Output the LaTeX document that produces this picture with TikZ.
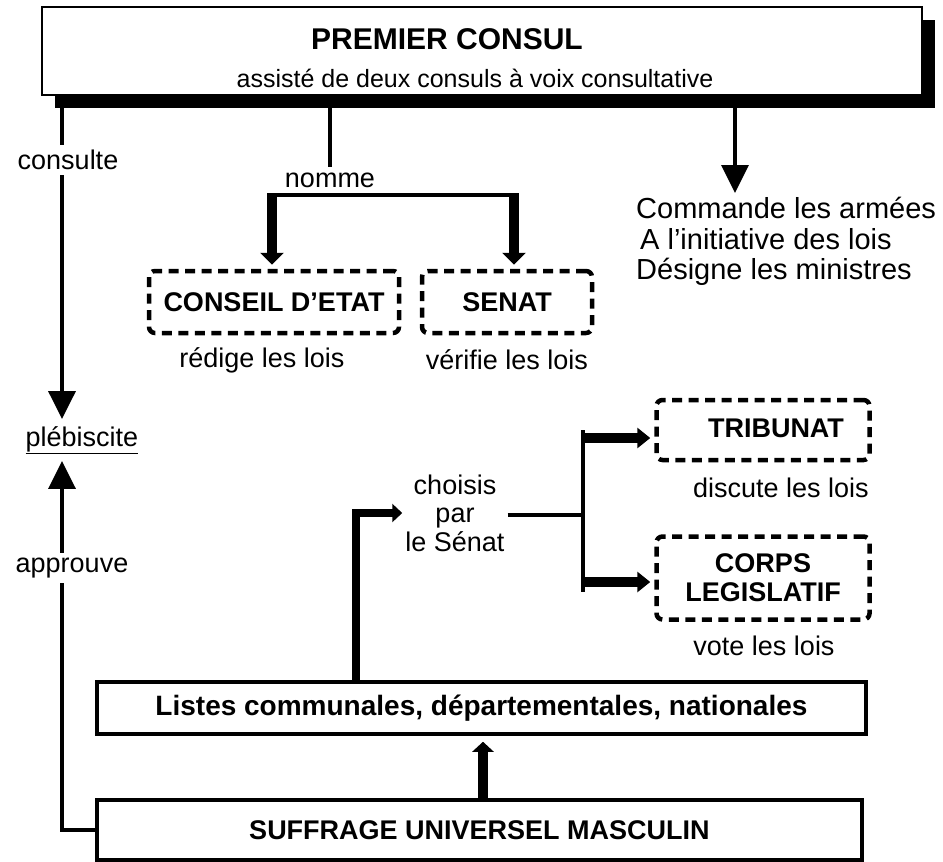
\documentclass[tikz,border=0pt]{standalone}
\usepackage{fontspec}
\setmainfont{Liberation Sans}
\usetikzlibrary{arrows.meta}
\begin{document}
\begin{tikzpicture}[x=1pt,y=-1pt,
 lbl/.style={font=\fontsize{27}{31}\selectfont, inner sep=5pt},
 bld/.style={font=\fontsize{27}{29}\selectfont\bfseries, inner sep=0pt},
 dbox/.style={draw, line width=4.5pt, dash pattern=on 10pt off 6.5pt, rounded corners=6pt, inner sep=0pt, font=\fontsize{27}{29}\selectfont\bfseries, align=center},
 sbox/.style={draw, line width=3.5pt, fill=white, inner sep=0pt},
 thinl/.style={line width=3.5pt},
 bigarrow/.style={line width=3.5pt, -{Triangle[width=27pt,length=28pt]}},
 fatarrow/.style={line width=10pt, -{Triangle[width=23pt,length=12pt]}},
 midarrow/.style={line width=10pt, -{Triangle[width=20pt,length=13pt]}},
 smallarrow/.style={line width=10pt, -{Triangle[width=21pt,length=10pt]}}
]
\useasboundingbox (0,0) rectangle (943,862);
% top box with shadow
\node[fill=black, minimum width=880pt, minimum height=88pt, inner sep=0pt] (pcshadow) at (495,64) {};
\node[sbox, line width=2.5pt, minimum width=880pt, minimum height=88pt] (pc) at (482,51) {};
\node[font=\fontsize{30}{34}\selectfont\bfseries, inner sep=0pt] (pct) at (447,39) {PREMIER CONSUL};
\node[font=\fontsize{25}{29}\selectfont, inner sep=0pt] (pcsub) at (475,78) {assisté de deux consuls à voix consultative};

% left column
\coordinate (cA) at (62,108);
\node[lbl] (cons) at (68,160) {consulte};
\node[lbl, inner sep=7pt] (pleb) at (82,440) {\underline{plébiscite}};
\node[lbl] (appr) at (72,568) {approuve};

% nomme
\coordinate (nA) at (330,108);
\node[lbl] (nomme) at (330,180) {nomme};
\coordinate (nL) at (272,195);
\coordinate (nR) at (514,195);
\node[dbox, minimum width=250pt, minimum height=62pt] (ce) at (274,302) {CONSEIL D'ETAT};
\node[dbox, minimum width=170pt, minimum height=62pt] (se) at (507,302) {SENAT};
\node[lbl] (ceL) at (262,360) {rédige les lois};
\node[lbl] (seL) at (507,360) {vérifie les lois};

% right
\coordinate (cmA) at (735,108);
\node[font=\fontsize{29}{30.5}\selectfont, align=left, anchor=north west, inner xsep=0pt, inner ysep=4pt] (cmd) at (636,193) {Commande les armées\\\hspace*{4pt}A l'initiative des lois\\Désigne les ministres};

% tribunat / corps
\node[dbox, minimum width=213pt, minimum height=60pt] (tr) at (763,430) {};
\node[bld] (trt) at (776,428) {TRIBUNAT};
\node[lbl] (trL) at (781,488) {discute les lois};
\node[dbox, minimum width=213pt, minimum height=83pt] (cl) at (763,578) {CORPS\\LEGISLATIF};
\node[lbl] (clL) at (764,646) {vote les lois};

\node[font=\fontsize{27}{28.5}\selectfont, align=center, inner sep=3pt] (ch) at (455,513) {choisis\\par\\le Sénat};
\coordinate (barM) at (583,515);
\coordinate (barT) at (583,430);
\coordinate (barB) at (583,592);
\coordinate (brT) at (583,438);
\coordinate (brB) at (583,582);

% bottom boxes
\node[sbox, minimum width=769pt, minimum height=52pt, font=\fontsize{28}{30}\selectfont\bfseries] (li) at (481.5,708) {Listes communales, départementales, nationales};
\node[sbox, minimum width=765pt, minimum height=60pt, font=\fontsize{27}{30}\selectfont\bfseries] (suf) at (479.5,830) {SUFFRAGE UNIVERSEL MASCULIN};
\coordinate (sx) at (483,0);
\coordinate (lx) at (356,0);

% connectors
\draw[thinl] (cA) -- (cA |- cons.north);
\draw[bigarrow] (cA |- cons.south) -- (cA |- pleb.north);
\draw[bigarrow] (cA |- appr.north) -- (cA |- pleb.south);
\draw[thinl] (cA |- appr.south) |- (suf.west);

\draw[thinl] (nA) -- (nA |- nomme.north);
\draw[thinl] (nL) -- (nR);
\draw[fatarrow, shorten >=4pt] ([yshift=1.75pt]nL) -- (ce.north -| nL);
\draw[fatarrow, shorten >=4pt] ([yshift=1.75pt]nR) -- (se.north -| nR);

\draw[bigarrow] (cmA) -- (cmA |- cmd.north);

\draw[thinl] (ch.east |- barM) -- (barM);
\draw[line width=4.5pt] (barT) -- (barB);
\draw[midarrow, shorten >=4pt] (brT) -- (tr.west |- brT);
\draw[midarrow, shorten >=4pt] (brB) -- (cl.west |- brB);

\draw[line width=8.5pt, -{Triangle[width=18pt,length=10pt]}] (li.north -| lx) |- (ch.west);
\draw[smallarrow, shorten >=6pt] (suf.north -| sx) -- (li.south -| sx);
\end{tikzpicture}
\end{document}
